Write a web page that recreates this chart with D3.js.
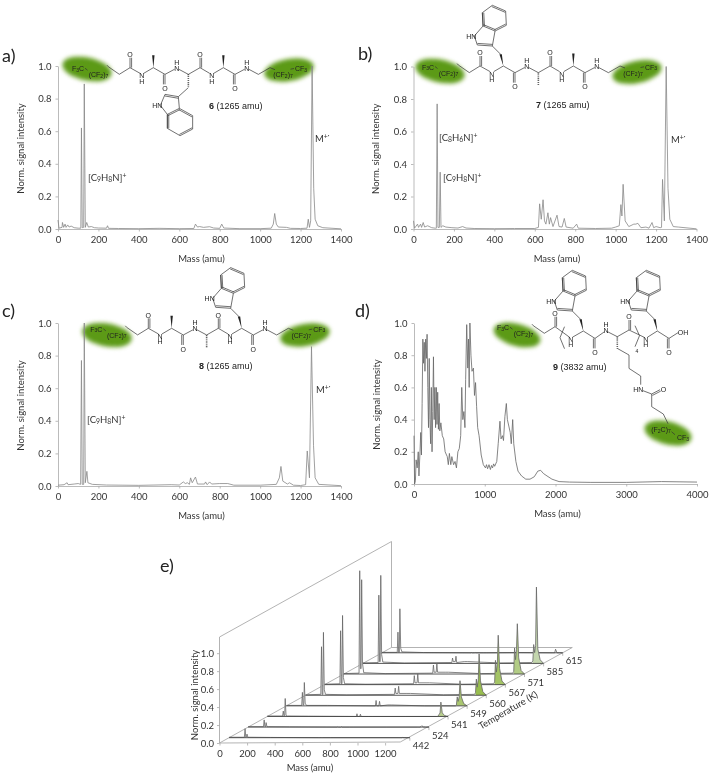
<!DOCTYPE html>
<html>
<head>
<meta charset="utf-8">
<script src="https://cdn.jsdelivr.net/npm/d3@7"></script>
<style>
  html, body { margin: 0; padding: 0; background: #fff; }
  svg { display: block; filter: blur(0.3px); }
  .tick text, .lab { font-family: Lato, sans-serif; font-size: 9.5px; fill: #333; }
  .chem { font-family: "Liberation Sans", sans-serif; font-size: 7px; fill: #222; }
  .name { font-family: "Liberation Sans", sans-serif; font-size: 9px; fill: #222; }
  .panel { font-family: Lato, sans-serif; font-size: 18px; fill: #222; }
  .domain, .tick line { stroke: #aaa; stroke-width: 0.8; }
</style>
</head>
<body>
<svg id="chart" width="709" height="774"></svg>
<script>
// Spectra as [mass, normalised intensity]
var spectrumA = [[0,.055],[5,.005],[20,.01],[22,.04],[28,.01],[35,.03],[40,.01],[48,.025],[55,.012],[65,.018],[80,.008],[100,.005],[113,.005],[116,.62],[120,.008],[127,.01],[130,.89],[135,.01],[142,.04],[150,.012],[165,.015],[180,.008],[200,.006],[240,.005],[245,.02],[250,.004],[300,.003],[400,.002],[500,.004],[600,.002],[672,.003],[680,.03],[690,.012],[700,.015],[720,.01],[750,.014],[770,.006],[800,.004],[810,.03],[820,.006],[900,.002],[1000,.002],[1055,.005],[1065,.03],[1072,.095],[1080,.03],[1090,.012],[1130,.01],[1150,.004],[1200,.003],[1232,.005],[1238,.06],[1244,.01],[1250,.05],[1257,1],[1265,.25],[1272,.06],[1285,.02],[1310,.008],[1400,.001]];
var spectrumB = [[0,.05],[5,.005],[20,.03],[25,.01],[35,.03],[40,.01],[48,.04],[55,.012],[70,.02],[90,.008],[108,.005],[113,.005],[117,.77],[121,.01],[128,.01],[132,.35],[136,.01],[145,.02],[160,.012],[190,.008],[220,.006],[243,.015],[260,.006],[300,.003],[400,.002],[500,.003],[600,.003],[618,.01],[624,.155],[632,.06],[641,.18],[648,.05],[655,.03],[665,.1],[672,.03],[678,.07],[690,.015],[710,.085],[720,.015],[735,.012],[746,.065],[755,.012],[790,.005],[807,.03],[815,.005],[900,.003],[980,.005],[1000,.012],[1018,.02],[1026,.15],[1031,.08],[1037,.275],[1047,.05],[1065,.015],[1090,.03],[1100,.03],[1110,.035],[1125,.008],[1150,.012],[1165,.005],[1180,.04],[1188,.008],[1200,.015],[1220,.008],[1227,.01],[1232,.305],[1241,.05],[1250,1],[1259,.25],[1268,.06],[1285,.015],[1310,.012],[1400,.001]];
var spectrumC = [[0,.005],[30,.008],[45,.02],[50,.008],[80,.012],[100,.015],[112,.01],[116,.77],[120,.01],[127,.01],[130,1],[135,.02],[143,.09],[148,.02],[170,.01],[240,.006],[400,.004],[560,.008],[600,.006],[620,.025],[630,.015],[640,.02],[650,.01],[656,.05],[664,.02],[680,.055],[690,.012],[725,.012],[730,.025],[738,.008],[750,.025],[760,.012],[800,.015],[840,.015],[870,.005],[1000,.005],[1080,.01],[1095,.05],[1103,.12],[1112,.03],[1135,.012],[1145,.02],[1165,.005],[1200,.003],[1225,.008],[1233,.215],[1244,.05],[1254,.855],[1264,.25],[1272,.05],[1290,.01],[1400,.002]];
var spectrumD = [[0,.3],[8,0],[20,.02],[30,.15],[45,.1],[60,.2],[70,.05],[85,.2],[95,.32],[105,.18],[115,.5],[125,.9],[135,.75],[145,.88],[155,.7],[165,.9],[175,.78],[185,.93],[195,.6],[205,.35],[215,.78],[225,.4],[235,.25],[245,.6],[255,.2],[265,.45],[275,.79],[285,.4],[295,.6],[305,.35],[315,.6],[325,.37],[335,.57],[345,.34],[355,.5],[365,.33],[380,.38],[400,.3],[420,.28],[440,.2],[470,.17],[485,.12],[500,.19],[520,.12],[535,.17],[560,.12],[580,.14],[600,.1],[620,.2],[640,.22],[660,.3],[675,.6],[690,.4],[705,.45],[720,.35],[730,.65],[745,.99],[760,.72],[770,.9],[780,.6],[790,1],[805,.8],[820,.7],[840,.72],[855,.55],[870,.63],[885,.48],[900,.35],[920,.3],[950,.18],[980,.12],[1010,.1],[1025,.12],[1040,.095],[1060,.12],[1080,.09],[1095,.115],[1110,.1],[1125,.125],[1140,.11],[1170,.14],[1190,.25],[1215,.39],[1230,.28],[1250,.3],[1265,.27],[1285,.42],[1305,.5],[1320,.4],[1340,.36],[1360,.32],[1375,.25],[1395,.4],[1410,.25],[1440,.14],[1470,.08],[1520,.05],[1580,.03],[1640,.03],[1700,.045],[1750,.08],[1790,.085],[1830,.065],[1880,.05],[1950,.03],[2050,.015],[2200,.012],[2500,.01],[3000,.01],[3500,.015],[4000,.012]];

// Panel e, one intensity list per temperature over the shared mass list
var tempLabels = ['442', '524', '541', '549', '560', '567', '571', '585', '615'];
var rowMass = [0, 111, 116, 121, 126, 130, 136, 145, 300, 645, 650, 655, 670, 675, 680, 735, 760, 1000, 1225, 1232, 1238, 1245, 1252, 1258, 1268, 1285, 1310];
var row442 = [.005, .005, .1, .005, .01, .04, .005, .005, .003, 0, 0, 0, 0, 0, 0, 0, 0, 0, 0, 0, 0, 0, 0, .003, 0, 0, 0];
var row524 = [.005, .005, .08, .005, .005, .05, .005, .005, .003, 0, .005, 0, 0, .005, 0, 0, 0, 0, 0, 0, 0, 0, .005, .015, .003, 0, 0];
var row541 = [.005, .005, .06, .005, .01, .2, .01, .005, .003, 0, .03, 0, 0, .025, 0, 0, 0, 0, 0, 0, .01, .02, .04, .16, .04, .01, 0];
var row549 = [.005, .005, .15, .01, .01, .26, .03, .005, .005, 0, .06, 0, 0, .05, 0, .01, .01, 0, 0, .01, .1, .05, .1, .28, .1, .025, 0];
var row560 = [.005, .01, .54, .01, .01, .7, .06, .01, .005, .01, .08, .02, .02, .1, .02, .02, .02, .005, .01, .03, .18, .09, .18, .46, .16, .04, 0];
var row567 = [.005, .01, .6, .01, .01, .77, .08, .01, .005, .01, .1, .02, .02, .12, .02, .02, .02, .005, .01, .03, .27, .14, .25, .55, .18, .04, 0];
var row571 = [.005, .01, 1.15, .06, .06, 1.05, .12, .015, .005, .01, .1, .02, .02, .12, .02, .02, .02, .005, .01, .03, .29, .16, .27, .56, .18, .04, 0];
var row585 = [.005, .01, .76, .02, .02, .98, .1, .015, .005, .01, .06, .02, .02, .08, .01, .02, .02, .005, .01, .03, .21, .12, .2, .85, .16, .04, 0];
var row615 = [.005, .005, .23, .005, .005, .49, .05, .01, .003, 0, .003, 0, 0, .003, 0, 0, 0, .003, 0, 0, 0, 0, 0, .04, 0, 0, 0];
var rowIntensity = [row442, row524, row541, row549, row560, row567, row571, row585, row615];

var massTicks14 = [0, 200, 400, 600, 800, 1000, 1200, 1400];
var massTicks40 = [0, 1000, 2000, 3000, 4000];
var massTicks12 = [0, 200, 400, 600, 800, 1000, 1200];
var intensityTicks = [0, .2, .4, .6, .8, 1];

var svg = d3.select('#chart');
var defs = svg.append('defs');
defs.append('filter').attr('id', 'soft')
  .attr('x', '-30%').attr('y', '-50%').attr('width', '160%').attr('height', '200%')
  .append('feGaussianBlur').attr('stdDeviation', 2.3);

var dx = 11.67, dy = 6.67;

function rich(sel, str) {
  // _x is a subscript, ^x a superscript
  var parts = str.match(/[_^].|[^_^]+/g);
  var shift = 0;
  parts.forEach(function(p) {
    var want = p[0] === '_' ? 0.3 : p[0] === '^' ? -0.35 : 0;
    var t = sel.append('tspan').text(want ? p.slice(1) : p);
    t.attr('dy', (want - shift) + 'em');
    if (want) t.style('font-size', '72%');
    // em of a tspan follows its own size, keep it simple and close enough
    shift = want * (want ? 0.72 : 1);
  });
  return sel;
}

function label(g, cls, x, y, str, anchor) {
  var t = g.append('text').attr('class', cls).attr('x', x).attr('y', y)
    .attr('text-anchor', anchor || 'middle').attr('dominant-baseline', 'central');
  return rich(t, str);
}

function bond(g, pts) {
  g.append('path').attr('d', d3.line()(pts))
    .attr('fill', 'none').attr('stroke', '#333').attr('stroke-width', 0.7);
}

function dbl(g, a, b, off) {
  // double bond, second stroke on the given side
  bond(g, [a, b]);
  var len = Math.hypot(b[0] - a[0], b[1] - a[1]);
  var nx = -(b[1] - a[1]) / len * off, ny = (b[0] - a[0]) / len * off;
  bond(g, [[a[0] + nx, a[1] + ny], [b[0] + nx, b[1] + ny]]);
}

function wedge(g, a, b) {
  g.append('path')
    .attr('d', 'M' + a[0] + ',' + a[1] + 'L' + (b[0] - 1.2) + ',' + b[1] + 'L' + (b[0] + 1.2) + ',' + b[1] + 'Z')
    .attr('fill', '#222');
}

function hashed(g, a, b) {
  g.append('line').attr('x1', a[0]).attr('y1', a[1]).attr('x2', b[0]).attr('y2', b[1])
    .attr('stroke', '#333').attr('stroke-width', 1.6).attr('stroke-dasharray', '0.8 1.1');
}

function atom(g, x, y, str) {
  return label(g, 'chem', x, y, str);
}

function carbonyl(g, c, dir) {
  var end = [c[0], c[1] + dir * 10];
  dbl(g, c, end, 1.6);
  atom(g, end[0], end[1] + dir * 3.6, 'O');
}

// Indole on a side chain, anchored on the alpha carbon
function indole(g, ca, sign) {
  var s = sign;
  function p(x, y) { return [ca[0] + x, ca[1] + y * s]; }
  var ch2 = sign < 0 ? p(-2.7, 11.7) : p(0, 13.3);
  var c3 = sign < 0 ? p(-11, 20) : p(-10, 22.3);
  var c2 = sign < 0 ? p(-26, 21) : p(-23.3, 20);
  var n1 = sign < 0 ? p(-29, 30) : p(-28, 31);
  var c7a = sign < 0 ? p(-20.3, 40) : p(-21, 40);
  var c3a = sign < 0 ? p(-8.3, 35) : p(-9, 34);
  var c4 = sign < 0 ? p(3, 40.7) : p(4.3, 41.3);
  var c5 = sign < 0 ? p(2.3, 55) : p(4.3, 54.7);
  var c6 = sign < 0 ? p(-11, 60.7) : p(-8.3, 61.3);
  var c7 = sign < 0 ? p(-21, 53.3) : p(-21, 54);
  bond(g, [ch2, c3]);
  dbl(g, c3, c2, sign < 0 ? 1.6 : -1.6);
  bond(g, [c2, n1]);
  bond(g, [n1, c7a, c7]);
  bond(g, [c3, c3a]);
  dbl(g, c7a, c3a, sign < 0 ? -1.4 : 1.4);
  dbl(g, c3a, c4, sign < 0 ? -1.4 : 1.4);
  bond(g, [c4, c5]);
  dbl(g, c5, c6, sign < 0 ? -1.4 : 1.4);
  bond(g, [c6, c7]);
  dbl(g, c7, c7a, sign < 0 ? -1.4 : 1.4);
  atom(g, n1[0] - 3, n1[1], 'HN');
  return ch2;
}

function fluoroLeft(g) {
  atom(g, -52, 0.5, 'F_3C');
  atom(g, -31.5, 6.5, '(CF_2)_7');
  bond(g, [[-45, 0.5], [-42.5, 2.5]]);
  bond(g, [[-23, -2.5], [-21.7, -1], [-10.7, 6.6], [0, 0]]);
}

// The three identical peptide backbones of 6, 7 and 8; trp says which residue carries the indole
function peptide(x, y, trp, name, nameX, nameY) {
  var g = svg.append('g').attr('transform', 'translate(' + x + ',' + y + ')');
  fluoroLeft(g);
  bond(g, [[0, 0], [dx - 1.5, dy - 1]]);
  bond(g, [[dx + 2, dy - 1], [2 * dx, 0], [3 * dx, dy], [4 * dx - 2, 1.5]]);
  bond(g, [[4 * dx + 2, 1.5], [5 * dx, dy], [6 * dx, 0], [7 * dx - 2, dy - 1]]);
  bond(g, [[7 * dx + 2, dy - 1], [8 * dx, 0], [9 * dx, dy], [10 * dx - 2, 1.5]]);
  bond(g, [[10 * dx + 2, 1.5], [11 * dx, dy], [12 * dx, 0], [145, 2]]);
  carbonyl(g, [0, 0], -1);
  carbonyl(g, [3 * dx, dy], 1);
  carbonyl(g, [6 * dx, 0], -1);
  carbonyl(g, [9 * dx, dy], 1);
  atom(g, dx, dy + 1, 'N'); atom(g, dx, dy + 6.5, 'H');
  atom(g, 4 * dx, 0, 'N'); atom(g, 4 * dx, -6, 'H');
  atom(g, 7 * dx, dy + 1, 'N'); atom(g, 7 * dx, dy + 6.5, 'H');
  atom(g, 10 * dx, 0, 'N'); atom(g, 10 * dx, -6, 'H');

  // side chains
  [[2 * dx, 0, -1], [5 * dx, dy, 1], [8 * dx, 0, -1]].forEach(function(c, i) {
    var ca = [c[0], c[1]];
    var isTrp = i === trp;
    if (c[2] > 0) {
      var end = [ca[0], ca[1] + 12.5];
      hashed(g, ca, end);
      if (isTrp) indole(g, ca, 1);
    } else if (isTrp) {
      wedge(g, ca, [ca[0] - 2.7, ca[1] - 11.7]);
      indole(g, ca, -1);
    } else {
      wedge(g, ca, [ca[0], ca[1] - 12.5]);
    }
  });

  atom(g, 153, 6.6, '(CF_2)_7');
  atom(g, 171, 0.6, 'CF_3');
  bond(g, [[160.5, 1.5], [164, 0.8]]);

  var t = svg.append('text').attr('class', 'name').attr('x', nameX).attr('y', nameY)
    .attr('dominant-baseline', 'central');
  t.append('tspan').style('font-weight', 'bold').text(name[0]);
  t.append('tspan').text(name[1]);
}

function peptide9(x, y) {
  var g = svg.append('g').attr('transform', 'translate(' + x + ',' + y + ')');
  fluoroLeft(g);
  carbonyl(g, [0, 0], -1);
  bond(g, [[0, 0], [14.5, 10.5]]);
  bond(g, [[17.5, 10.5], [28.3, 4.3], [40, 11.7], [49.5, 5]]);
  bond(g, [[52.5, 5], [62.3, 10], [74, 3.3], [89, 10.5]]);
  bond(g, [[92.5, 10.5], [102.3, 4.3], [114, 11.7], [123, 6]]);
  carbonyl(g, [40, 11.7], 1);
  carbonyl(g, [74, 3.3], -1);
  carbonyl(g, [114, 11.7], 1);
  atom(g, 15.7, 12, 'N'); atom(g, 15.7, 17.5, 'H');
  atom(g, 51, 3.3, 'N'); atom(g, 51, -2.5, 'H');
  atom(g, 90.7, 12, 'N'); atom(g, 90.7, 17.5, 'H');
  atom(g, 128, 5, 'OH');
  wedge(g, [28.3, 4.3], [25.6, -7.4]);
  indole(g, [28.3, 4.3], -1);
  wedge(g, [102.3, 4.3], [99.6, -7.4]);
  indole(g, [102.3, 4.3], -1);

  // lysine arm with the second fluorous tail
  hashed(g, [62.3, 10], [62.3, 21.7]);
  bond(g, [[62.3, 21.7], [74, 28.3], [74, 41.7], [85.7, 49.3], [85.7, 58]]);
  atom(g, 83.3, 62.7, 'HN');
  bond(g, [[88, 64], [96.7, 67.3]]);
  dbl(g, [96.7, 67.3], [105, 63], 1.6);
  atom(g, 108.5, 62.5, 'O');
  bond(g, [[96.7, 67.3], [96.7, 80], [108.3, 87.3], [113, 97]]);
  atom(g, 106, 102.5, '(F_2C)_7');
  bond(g, [[116.5, 105], [120, 108]]);
  atom(g, 128, 110.5, 'CF_3');

  // repeat brackets, 4 units
  bond(g, [[9.5, 0], [5, 11], [9.5, 22]]);
  bond(g, [[80, -1], [84.5, 9], [80, 20]]);
  atom(g, 82, 23, '_4');

  var t = svg.append('text').attr('class', 'name').attr('x', 553).attr('y', 367)
    .attr('dominant-baseline', 'central');
  t.append('tspan').style('font-weight', 'bold').text('9');
  t.append('tspan').text(' (3832 amu)');
}

// Blurred green blobs sit behind the fluorous tails
function blob(cx, cy, rx, ry, rot) {
  svg.append('ellipse').attr('cx', cx).attr('cy', cy).attr('rx', rx).attr('ry', ry)
    .attr('transform', 'rotate(' + rot + ' ' + cx + ' ' + cy + ')')
    .attr('fill', '#5b9a12').attr('filter', 'url(#soft)');
}

function spectrum(cfg) {
  var x = d3.scaleLinear().domain([0, cfg.max]).range([cfg.x0, cfg.x1]);
  var y = d3.scaleLinear().domain([0, 1]).range([cfg.y0, cfg.y1]);

  svg.append('g').attr('transform', 'translate(0,' + cfg.y0 + ')')
    .call(d3.axisBottom(x).tickValues(cfg.ticks).tickSize(2.5).tickSizeOuter(0).tickPadding(5).tickFormat(d3.format('d')));
  svg.append('g').attr('transform', 'translate(' + cfg.x0 + ',0)')
    .call(d3.axisLeft(y).tickValues(intensityTicks).tickSize(2.5).tickSizeOuter(0).tickPadding(4).tickFormat(d3.format('.1f')));

  svg.append('path').datum(cfg.data)
    .attr('fill', 'none').attr('stroke', cfg.stroke || '#888').attr('stroke-width', cfg.width || 0.8)
    .attr('stroke-linejoin', 'round')
    .attr('d', d3.line().x(function(d) { return x(d[0]); }).y(function(d) { return y(d[1]); }));

  label(svg, 'lab', (cfg.x0 + cfg.x1) / 2 + 2, cfg.y0 + 29, 'Mass (amu)');
  svg.append('text').attr('class', 'lab').attr('text-anchor', 'middle')
    .attr('dominant-baseline', 'central')
    .attr('transform', 'translate(' + (cfg.x0 - 38) + ',' + ((cfg.y0 + cfg.y1) / 2 + 1) + ') rotate(-90)')
    .text('Norm. signal intensity');
}

// a)
blob(87, 69, 25, 11.5, 12);
blob(289, 70, 25, 11, -10);
spectrum({data: spectrumA, max: 1400, ticks: massTicks14, x0: 58, x1: 341, y0: 229, y1: 66});
peptide(130, 67.7, 1, ['6', ' (1265 amu)'], 209, 105.5);
label(svg, 'lab', 88, 177, '[C_9H_8N]^+', 'start');
label(svg, 'lab', 315, 138, 'M^+^·', 'start');
label(svg, 'panel', 2, 55, 'a)', 'start');

// b)
blob(440, 71, 25, 11.5, 12);
blob(637, 72, 25, 11, -12);
spectrum({data: spectrumB, max: 1400, ticks: massTicks14, x0: 413.5, x1: 696.5, y0: 229, y1: 66.5});
peptide(480, 66, 0, ['7', ' (1265 amu)'], 536, 105);
label(svg, 'lab', 439, 137, '[C_8H_6N]^+', 'start');
label(svg, 'lab', 443, 177, '[C_9H_8N]^+', 'start');
label(svg, 'lab', 671, 139, 'M^+^·', 'start');
label(svg, 'panel', 358, 53, 'b)', 'start');

// c)
blob(107, 335, 25, 11.5, 10);
blob(305, 335, 25, 11, -10);
spectrum({data: spectrumC, max: 1400, ticks: massTicks14, x0: 58, x1: 341, y0: 486, y1: 323});
peptide(148.3, 328.3, 2, ['8', ' (1265 amu)'], 199, 366);
label(svg, 'lab', 87, 419, '[C_9H_8N]^+', 'start');
label(svg, 'lab', 316, 389, 'M^+^·', 'start');
label(svg, 'panel', 2, 310, 'c)', 'start');

// d)
blob(517, 335, 24, 11, 15);
blob(668, 433, 24, 11.5, 14);
spectrum({data: spectrumD, max: 4000, ticks: massTicks40, x0: 414, x1: 697, y0: 484, y1: 323, stroke: '#666'});
peptide9(555, 326.7);
label(svg, 'panel', 355, 310, 'd)', 'start');

// e) the waterfall, projected by hand onto the page
var ex0 = 219.5, ey0 = 743, depthX = 172, depthY = -95.5;
var eMass = d3.scaleLinear().domain([0, 1200]).range([0, 165.6]);
var eInt = d3.scaleLinear().domain([0, 1.18]).range([0, 106]);
var eDepth = d3.scaleBand().domain(tempLabels).range([0, 1]);

function proj(mass, temp, value) {
  var f = eDepth(temp) + eDepth.bandwidth() / 2;
  return [ex0 + eMass(mass) + f * depthX, ey0 + f * depthY - eInt(value)];
}

var frame = svg.append('g').attr('fill', 'none').attr('stroke', '#aaa').attr('stroke-width', 0.9);
frame.append('path').attr('d', d3.line()([
  [ex0, ey0], [ex0, ey0 - eInt(1.18)], [ex0 + depthX, ey0 + depthY - eInt(1.18)], [ex0 + depthX, ey0 + depthY]
]));
frame.append('path').attr('d', d3.line()([
  [ex0, ey0], [ex0 + eMass(1310), ey0 - 1], [ex0 + eMass(1310) + depthX, ey0 + depthY], [ex0 + depthX, ey0 + depthY], [ex0, ey0]
]));

var ex = d3.scaleLinear().domain([0, 1200]).range([ex0, ex0 + eMass(1200)]);
var ey = d3.scaleLinear().domain([0, 1]).range([ey0, ey0 - eInt(1)]);
var exAxis = svg.append('g').attr('transform', 'translate(0,' + ey0 + ')')
  .call(d3.axisBottom(ex).tickValues(massTicks12).tickSize(2.5).tickSizeOuter(0).tickPadding(5).tickFormat(d3.format('d')));
var eyAxis = svg.append('g').attr('transform', 'translate(' + ex0 + ',0)')
  .call(d3.axisLeft(ey).tickValues(intensityTicks).tickSize(2.5).tickSizeOuter(0).tickPadding(3).tickFormat(d3.format('.1f')));
exAxis.select('.domain').remove();
eyAxis.select('.domain').remove();

label(svg, 'lab', 310, 767, 'Mass (amu)');
svg.append('text').attr('class', 'lab').attr('text-anchor', 'middle').attr('dominant-baseline', 'central')
  .attr('transform', 'translate(194,695) rotate(-90)').text('Norm. signal intensity');
svg.append('text').attr('class', 'lab').attr('text-anchor', 'middle').attr('dominant-baseline', 'central')
  .attr('transform', 'translate(508,710) rotate(-30)').text('Temperature (K)');

tempLabels.forEach(function(temp) {
  var p = proj(1310, temp, 0);
  svg.append('line').attr('x1', p[0]).attr('y1', p[1]).attr('x2', p[0]).attr('y2', p[1] + 3)
    .attr('stroke', '#aaa').attr('stroke-width', 0.8);
  label(svg, 'lab', p[0] + 3, p[1] + 7.5, temp, 'start');
});

// green shading of the molecular ion, stronger for the middle temperatures
var greenFill = d3.scaleOrdinal().domain(tempLabels)
  .range(['#fff', '#fff', '#b9cf8e', '#a9c66f', '#98bd4f', '#a4c465', '#b2cc85', '#c3d6ad', '#fff']);

var rows = tempLabels.map(function(temp, i) {
  return {temp: temp, pts: rowMass.map(function(m, j) { return {m: m, v: rowIntensity[i][j]}; })};
}).reverse();

rows.forEach(function(r) {
  var area = d3.area()
    .x(function(d) { return proj(d.m, r.temp, 0)[0]; })
    .y0(function() { return proj(0, r.temp, 0)[1]; })
    .y1(function(d) { return proj(d.m, r.temp, d.v)[1]; });
  var line = d3.line()
    .x(function(d) { return proj(d.m, r.temp, d.v)[0]; })
    .y(function(d) { return proj(d.m, r.temp, d.v)[1]; });
  svg.append('path').attr('d', area(r.pts)).attr('fill', '#fff');
  svg.append('path').attr('d', area(r.pts.filter(function(d) { return d.m >= 1232; })))
    .attr('fill', greenFill(r.temp));
  svg.append('path').attr('d', line(r.pts))
    .attr('fill', 'none').attr('stroke', '#666').attr('stroke-width', 0.8);
  // the baselines read darker than the peaks
  svg.append('path').attr('d', d3.line()([proj(0, r.temp, 0), proj(1310, r.temp, 0)]))
    .attr('fill', 'none').attr('stroke', '#444').attr('stroke-width', 0.9);
});

label(svg, 'panel', 160, 565, 'e)', 'start');
</script>
</body>
</html>
